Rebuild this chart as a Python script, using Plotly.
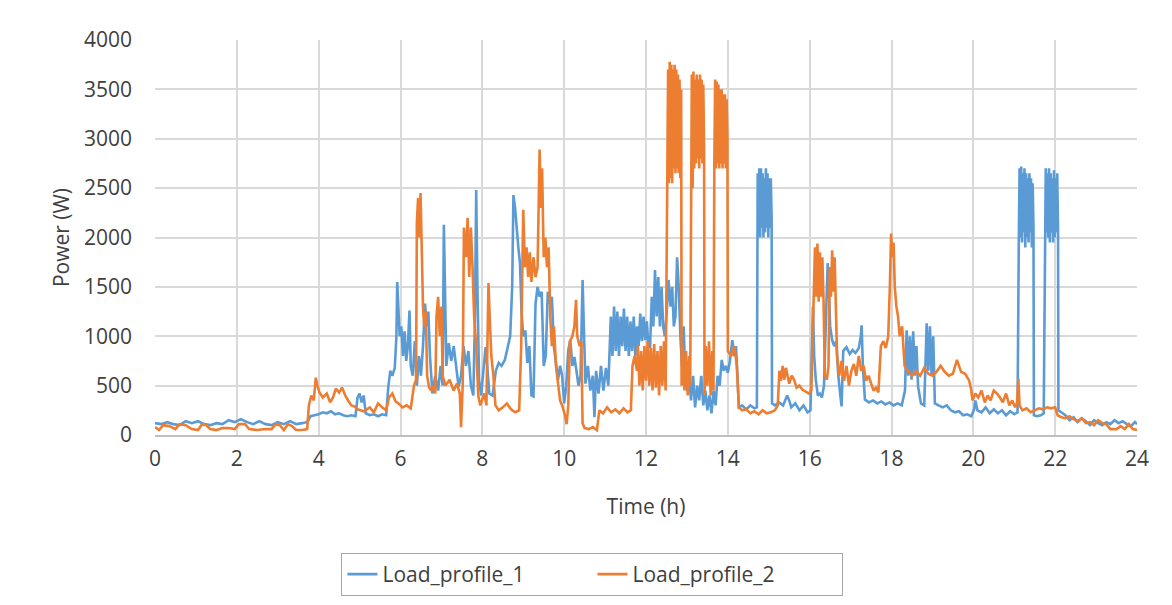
import plotly.graph_objects as go

# ---------------- data: (hour, watts) ----------------
p1_night = [(0.00,120),(0.15,110),(0.30,130),(0.45,110),(0.60,100),(0.75,140),(0.90,120),(1.05,140),
            (1.20,110),(1.35,100),(1.50,120),(1.65,110),(1.80,150),(1.95,130),(2.10,160),(2.25,130),
            (2.40,110),(2.55,140),(2.70,110),(2.85,100),(3.00,130),(3.15,110),(3.30,140),(3.45,110),
            (3.60,120),(3.70,130)]
p1_morning = [(3.75,150),(3.80,190),(3.90,200),(4.00,210),(4.10,230),(4.20,220),(4.30,240),(4.40,210),
              (4.50,220),(4.60,200),(4.70,190),(4.80,200),(4.90,190),(4.95,380),(5.00,420),(5.05,330),
              (5.10,400),(5.15,220),(5.25,200),(5.35,210),(5.45,190),(5.55,210),(5.65,200),(5.70,480),
              (5.75,650),(5.80,600),(5.86,680),(5.90,1000),(5.92,1550),(5.95,1200),(5.98,1000),(6.02,1100),
              (6.06,800),(6.10,1050),(6.14,750),(6.18,900),(6.22,1260),(6.25,700),(6.30,600),(6.35,950),
              (6.40,500),(6.45,800),(6.50,600),(6.55,900),(6.60,1330),(6.64,1100),(6.68,1250),(6.72,800),
              (6.78,420),(6.85,600),(6.92,450),(6.98,700),(7.03,500),(7.06,2130),(7.09,1500),(7.12,700),
              (7.18,930),(7.24,750),(7.30,900),(7.36,700),(7.42,490),(7.48,600),(7.54,900),(7.60,700),
              (7.66,850),(7.72,500),(7.78,400),(7.82,1200),(7.85,2480),(7.88,1500),(7.92,560),(7.97,400),
              (8.03,650),(8.08,890),(8.12,700),(8.17,420),(8.25,400),(8.33,650),(8.40,730),(8.47,700),
              (8.55,760),(8.62,890),(8.68,1000),(8.73,1500),(8.76,2430),(8.80,2300),(8.84,2070),(8.88,1900),
              (8.92,1740),(8.96,1230),(9.00,1000),(9.05,1060),(9.10,730),(9.15,900),(9.20,400),(9.25,390),
              (9.30,1330),(9.35,1500),(9.40,1400),(9.45,1450),(9.50,700),(9.55,800),(9.60,1450),(9.65,1330),
              (9.70,1400),(9.75,890),(9.80,730),(9.85,560),(9.90,700),(9.95,600),(10.00,320),(10.05,500),
              (10.10,860),(10.15,960),(10.20,700),(10.25,790),(10.30,650),(10.35,500),(10.40,600),(10.45,1570),
              (10.48,1100),(10.52,520),(10.58,700),(10.64,450),(10.70,600),(10.74,180),(10.78,650),(10.84,420),
              (10.90,700),(10.96,450),(11.02,680),(11.08,500)]
p1_midday = [(11.14,1200),(11.18,800),(11.22,1300),(11.26,850),(11.30,1250),(11.34,800),(11.38,1200),
             (11.42,900),(11.46,1280),(11.50,850),(11.54,1200),(11.58,800),(11.62,1150),(11.66,850),
             (11.70,1200),(11.74,800),(11.78,1100),(11.82,900),(11.86,1230),(11.90,950),(11.94,1200),
             (11.98,960),(12.02,1150),(12.06,900),(12.10,890),(12.14,1400),(12.18,1100),(12.22,1670),
             (12.26,1200),(12.30,1600),(12.34,1100),(12.38,1500),(12.42,1100),(12.46,1000),(12.50,1200),
             (12.55,1570),(12.60,1300),(12.64,1500),(12.68,1100),(12.72,1200),(12.76,1800),(12.80,1500),
             (12.84,1000),(12.88,700),(12.92,1100),(12.96,600),(13.00,450),(13.05,630),(13.10,350),
             (13.15,600),(13.20,280),(13.25,500),(13.30,350),(13.35,600),(13.40,300),(13.45,450),
             (13.50,250),(13.55,400),(13.60,220),(13.65,450),(13.70,300),(13.75,600),(13.80,500),
             (13.85,760),(13.90,650),(13.95,700),(14.00,630),(14.05,750),(14.11,960),(14.16,800),
             (14.20,900),(14.24,500),(14.27,280),(14.35,300),(14.45,260),(14.55,300),(14.65,270),(14.71,280)]
p1_band_a = [(14.73,2650),(14.75,2050),(14.77,2700),(14.79,2000),(14.81,2700),(14.83,2100),(14.85,2650),
             (14.87,2000),(14.89,2600),(14.91,2050),(14.93,2700),(14.95,2100),(14.97,2650),(14.99,2000),
             (15.01,2600),(15.03,2100),(15.05,2600),(15.07,2200)]
p1_afternoon = [(15.08,320),(15.15,300),(15.25,330),(15.35,300),(15.45,400),(15.50,350),(15.55,280),
                (15.65,320),(15.75,250),(15.85,300),(15.95,230),(16.02,250),(16.06,900),(16.08,1300),
                (16.11,800),(16.15,560),(16.20,400),(16.25,420),(16.30,380),(16.35,500),(16.40,1200),
                (16.44,1740),(16.47,1500),(16.50,1100),(16.55,960),(16.60,900),(16.65,950),(16.70,600),
                (16.75,400),(16.78,290),(16.82,850),(16.90,890),(16.98,820),(17.05,860),(17.12,830),
                (17.20,880),(17.25,1000),(17.27,1110),(17.30,700),(17.35,360),(17.45,330),(17.55,350),
                (17.65,320),(17.75,340),(17.85,310),(17.95,330),(18.05,300),(18.15,320),(18.25,300),
                (18.33,450),(18.37,1060),(18.41,600),(18.45,1000),(18.49,560),(18.53,1050),(18.57,600),
                (18.61,900),(18.65,490),(18.72,320),(18.80,300),(18.86,1130),(18.90,650),(18.94,1100),
                (18.98,600),(19.02,1000),(19.06,320),(19.15,300),(19.25,280),(19.35,300),(19.45,250),
                (19.55,230),(19.65,240),(19.75,200),(19.85,210),(19.95,190),(20.02,260),(20.05,350),
                (20.10,250),(20.20,230),(20.30,280),(20.40,220),(20.50,260),(20.60,220),(20.70,250),
                (20.80,200),(20.90,240),(21.00,210),(21.08,230)]
p1_band_b = [(21.11,1900),(21.13,2700),(21.15,2000),(21.17,2720),(21.19,1950),(21.21,2650),(21.23,2050),
             (21.25,2700),(21.27,1900),(21.29,2650),(21.31,2000),(21.33,2600),(21.35,1950),(21.37,2650),
             (21.39,2050),(21.41,2600),(21.43,1900),(21.45,2550),(21.47,2100),(21.48,200),(21.55,190),
             (21.65,200),(21.72,220)]
p1_band_c = [(21.75,1950),(21.77,2700),(21.79,2050),(21.81,2650),(21.83,2000),(21.85,2700),(21.87,1950),
             (21.89,2650),(21.91,2050),(21.93,2600),(21.95,1950),(21.97,2680),(21.99,2000),(22.01,2600),
             (22.03,2050),(22.05,2650),(22.07,2100)]
p1_evening = [(22.08,250),(22.15,230),(22.25,200),(22.35,150),(22.45,180),(22.55,130),(22.65,170),
              (22.75,140),(22.85,100),(22.95,150),(23.05,120),(23.15,100),(23.25,130),(23.35,110),
              (23.45,150),(23.55,120),(23.65,140),(23.75,110),(23.85,90),(23.95,130),(24.00,110)]

p2_night = [(0.00,80),(0.10,50),(0.20,100),(0.35,90),(0.50,60),(0.60,110),(0.75,100),(0.90,60),
            (1.05,50),(1.15,110),(1.25,100),(1.35,60),(1.50,50),(1.65,70),(1.80,70),(1.95,60),
            (2.05,110),(2.20,110),(2.30,60),(2.50,50),(2.70,60),(2.85,60),(2.95,110),(3.05,100),
            (3.15,50),(3.25,110),(3.35,90),(3.45,50),(3.60,50),(3.72,60)]
p2_morning = [(3.76,300),(3.82,400),(3.88,350),(3.93,580),(3.97,500),(4.02,430),(4.10,380),(4.20,420),
              (4.28,330),(4.35,380),(4.42,470),(4.50,430),(4.57,480),(4.65,400),(4.72,350),(4.80,300),
              (4.87,290),(4.95,260),(5.10,240),(5.25,280),(5.35,230),(5.45,320),(5.55,280),(5.65,250),
              (5.72,380),(5.80,420),(5.88,340),(5.95,320),(6.05,280),(6.15,300),(6.25,270),(6.33,500),
              (6.38,560),(6.40,2150),(6.43,2400),(6.46,2000),(6.49,2450),(6.52,1900),(6.55,1300),
              (6.58,1100),(6.62,1250),(6.65,600),(6.70,480),(6.75,450),(6.80,500),(6.85,420),(6.88,1200),
              (6.92,1400),(6.96,1000),(7.00,1300),(7.03,600),(7.10,500),(7.20,560),(7.30,450),(7.38,520),
              (7.45,420),(7.48,80),(7.52,500),(7.55,2100),(7.60,1800),(7.64,2200),(7.68,1600),(7.72,2100),
              (7.76,1700),(7.80,1200),(7.85,900),(7.90,400),(7.95,300),(8.00,350),(8.05,420),(8.10,300),
              (8.15,1540),(8.18,1200),(8.22,800),(8.27,600),(8.32,300),(8.40,250),(8.50,280),(8.60,320),
              (8.70,260),(8.80,230),(8.90,250),(8.95,900),(9.00,2280),(9.04,1700),(9.08,1900),(9.12,1600),
              (9.16,1850),(9.20,1550),(9.25,1800),(9.30,1600),(9.35,1700),(9.40,2890),(9.43,2300),
              (9.46,2700),(9.50,1800),(9.54,2000),(9.58,1700),(9.62,1900),(9.66,1200),(9.70,900),
              (9.75,1100),(9.80,700),(9.85,500),(9.90,350),(9.95,300),(10.02,200),(10.06,110),(10.10,300),
              (10.14,950),(10.20,1000),(10.25,1100),(10.29,1370),(10.32,1000),(10.38,900),(10.42,950),
              (10.45,120),(10.50,70),(10.60,60),(10.70,80),(10.80,50),(10.86,250),(10.95,220),(11.05,280),
              (11.15,230),(11.25,260),(11.35,220),(11.45,270),(11.55,230),(11.63,250),(11.67,700),
              (11.72,800),(11.78,650)]
p2_midday = [(11.80,900),(11.84,500),(11.88,850),(11.92,450),(11.96,900),(12.00,550),(12.04,950),
             (12.08,500),(12.12,880),(12.16,450),(12.20,920),(12.24,480),(12.28,850),(12.32,400),
             (12.36,900),(12.40,500),(12.44,950),(12.48,450)]
p2_burst_1 = [(12.52,2600),(12.54,3700),(12.56,2550),(12.58,3780),(12.60,2600),(12.62,3750),(12.64,2550),
              (12.66,3700),(12.68,2700),(12.70,3750),(12.72,2650),(12.74,3700),(12.76,2700),(12.78,3650),
              (12.80,2650),(12.82,3600),(12.84,2600),(12.86,3500),(12.87,500),(12.90,900),(12.94,450),
              (12.98,850),(13.02,400),(13.06,800),(13.08,500)]
p2_burst_2 = [(13.10,2800),(13.12,3650),(13.14,2500),(13.16,3680),(13.18,2700),(13.20,3600),(13.22,2750),
              (13.24,3650),(13.26,2800),(13.28,3600),(13.30,2700),(13.32,3650),(13.34,2800),(13.36,3600),
              (13.38,2750),(13.40,3550),(13.42,2900),(13.43,400),(13.46,900),(13.50,500),(13.54,950),
              (13.58,400),(13.62,850),(13.65,450)]
p2_burst_3 = [(13.67,2750),(13.69,3600),(13.71,2700),(13.73,3580),(13.75,2750),(13.77,3550),(13.79,2700),
              (13.81,3500),(13.83,2750),(13.85,3500),(13.87,2700),(13.89,3450),(13.91,2750),(13.93,3450),
              (13.95,2700),(13.97,3400),(13.99,3000)]
p2_afternoon = [(14.00,850),(14.08,800),(14.16,900),(14.22,700),(14.27,280),(14.35,250),(14.45,260),
                (14.55,220),(14.65,240),(14.75,210),(14.85,250),(14.95,220),(15.05,230),(15.15,250),
                (15.22,300),(15.26,650),(15.30,550),(15.34,700),(15.38,560),(15.42,680),(15.46,580),
                (15.50,520),(15.56,600),(15.62,560),(15.68,480),(15.75,500),(15.82,460),(15.90,440),
                (15.98,420),(16.04,450),(16.10,1300),(16.13,1900),(16.16,1400),(16.19,1940),(16.22,1350),
                (16.25,1850),(16.28,1400),(16.31,1800),(16.34,1350),(16.37,600),(16.42,560),(16.46,700),
                (16.49,1700),(16.52,1400),(16.55,1870),(16.58,1450),(16.61,1800),(16.64,1400),(16.67,800),
                (16.72,600),(16.78,750),(16.84,550),(16.90,700),(16.96,500),(17.02,650),(17.08,720),
                (17.14,600),(17.20,800),(17.26,650),(17.32,700),(17.38,550),(17.44,600),(17.50,520),
                (17.56,450),(17.62,480),(17.68,430),(17.74,900),(17.80,950),(17.86,880),(17.92,1000),
                (17.96,1500),(17.99,2040),(18.02,1800),(18.05,1950),(18.08,1500),(18.12,1300),(18.16,1200),
                (18.20,1000),(18.26,1100),(18.32,700),(18.40,650),(18.50,600),(18.60,650),(18.70,600),
                (18.80,680),(18.90,620),(19.00,600),(19.10,640),(19.20,700),(19.30,640),(19.40,600),
                (19.50,620),(19.60,760),(19.70,640),(19.80,620),(19.90,550),(19.95,450)]
p2_evening = [(19.98,350),(20.05,420),(20.12,380),(20.20,450),(20.28,330),(20.35,400),(20.42,350),
              (20.50,450),(20.58,420),(20.65,380),(20.72,330),(20.80,420),(20.88,300),(20.95,350),
              (21.02,280),(21.07,330),(21.10,570),(21.13,300),(21.20,250),(21.30,270),(21.40,230),
              (21.50,250),(21.60,270),(21.70,260),(21.80,280),(21.90,270),(22.00,280),(22.06,200),
              (22.15,180),(22.25,170),(22.35,190),(22.45,160),(22.55,140),(22.65,170),(22.75,120),
              (22.85,130),(22.95,100),(23.05,150),(23.15,120),(23.25,110),(23.35,60),(23.50,60),
              (23.60,90),(23.70,60),(23.80,110),(23.90,60),(24.00,50)]

x_ticks = [0, 2, 4, 6, 8, 10, 12, 14, 16, 18, 20, 22, 24]
y_ticks = [0, 500, 1000, 1500, 2000, 2500, 3000, 3500, 4000]

series_1 = (p1_night + p1_morning + p1_midday + p1_band_a + p1_afternoon
            + p1_band_b + p1_band_c + p1_evening)
series_2 = (p2_night + p2_morning + p2_midday + p2_burst_1 + p2_burst_2
            + p2_burst_3 + p2_afternoon + p2_evening)

FONT = "Open Sans"

fig = go.Figure()
fig.add_trace(go.Scatter(x=[p[0] for p in series_1], y=[p[1] for p in series_1],
                         mode="lines", name="Load_profile_1",
                         line=dict(color="#5b9bd5", width=2.6)))
fig.add_trace(go.Scatter(x=[p[0] for p in series_2], y=[p[1] for p in series_2],
                         mode="lines", name="Load_profile_2",
                         line=dict(color="#ed7d31", width=2.6)))

fig.update_layout(
    width=1172, height=605,
    margin=dict(l=155, r=35, t=40, b=170),
    paper_bgcolor="white", plot_bgcolor="white",
    font=dict(family=FONT, size=21, color="#404040"),
    showlegend=True,
    legend=dict(orientation="h", xref="container", yref="container",
                x=0.5055, xanchor="center", y=1 - 553 / 605, yanchor="top",
                bordercolor="#a6a6a6", borderwidth=1,
                entrywidth=205, entrywidthmode="pixels",
                font=dict(family=FONT, size=21, color="#404040")),
    xaxis=dict(range=[0, 24], tickvals=x_ticks, showgrid=True, gridcolor="#d9d9d9",
               gridwidth=1.5, zeroline=False, showline=True, linecolor="#bfbfbf",
               linewidth=1.5, ticks="", ticklabelstandoff=4,
               title=dict(text="Time (h)", standoff=28, font=dict(size=21, color="#404040"))),
    yaxis=dict(range=[0, 4000], tickvals=y_ticks, showgrid=True, gridcolor="#d9d9d9",
               gridwidth=1.5, zeroline=False, showline=False, ticks="",
               ticklabelstandoff=22,
               title=dict(text="Power (W)", standoff=8, font=dict(size=21, color="#404040"))),
)

fig.write_html("out.html")
